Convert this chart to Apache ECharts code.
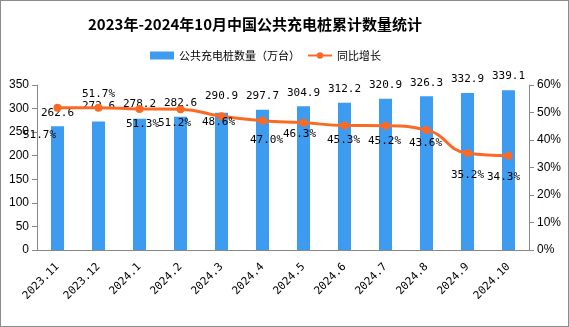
<!DOCTYPE html>
<html><head><meta charset="utf-8">
<script src="https://cdn.jsdelivr.net/npm/echarts@6/dist/echarts.min.js"></script>
<style>html,body{margin:0;padding:0;background:#fff}#c{width:569px;height:327px;box-sizing:border-box;border:1px solid #8c8c8c}</style>
</head><body><div id="c"></div>
<script>
const categories = ["2023.11","2023.12","2024.1","2024.2","2024.3","2024.4","2024.5","2024.6","2024.7","2024.8","2024.9","2024.10"];
const chargers = [262.6,272.6,278.2,282.6,290.9,297.7,304.9,312.2,320.9,326.3,332.9,339.1];
const growth = [51.7,51.7,51.3,51.2,48.6,47.0,46.3,45.3,45.2,43.6,35.2,34.3];
// label offsets relative to the point (label styling only)
const growthLabelOffset = [[-18,27],[0,-14],[3,15],[-6,14],[-3,6],[4,19],[-4,11],[-1,15],[-1,15],[-1,13],[0,22],[-5,21]];
const barLabelDistance = [8,10,9,8,11,8,8,8,8,8,8,8];

const chart = echarts.init(document.getElementById('c'));
const monoFont = '"DejaVu Sans Mono", monospace';
chart.setOption({
  animation:false,
  title:{text:'2023年-2024年10月中国公共充电桩累计数量统计',left:82,top:11,
    textStyle:{fontFamily:'"Noto Sans CJK SC"',fontSize:15,fontWeight:'bold',color:'#000'}},
  legend:{top:44,left:144,itemGap:7,itemWidth:24,itemHeight:8,
    textStyle:{fontFamily:'"Noto Sans CJK SC"',fontSize:11,color:'#000'},
    data:[{name:'公共充电桩数量（万台）',icon:'rect'},{name:'同比增长'}]},
  grid:{left:36,right:39,top:84,bottom:76,containLabel:false},
  xAxis:{type:'category',data:categories,
    axisLine:{lineStyle:{color:'#888'}},axisTick:{lineStyle:{color:'#888'},length:4},
    axisLabel:{rotate:45,interval:0,color:'#000',fontFamily:monoFont,fontSize:11,margin:15}},
  yAxis:[
    {type:'value',min:0,max:350,interval:50,splitLine:{show:false},
     axisLine:{show:true,lineStyle:{color:'#888'}},axisTick:{show:true,lineStyle:{color:'#888'}},
     axisLabel:{color:'#000',fontSize:12,fontFamily:'"Liberation Sans"'}},
    {type:'value',min:0,max:60,interval:10,splitLine:{show:false},
     axisLine:{show:true,lineStyle:{color:'#888'}},axisTick:{show:true,lineStyle:{color:'#888'}},
     axisLabel:{color:'#000',fontSize:12,fontFamily:'"Liberation Sans"',formatter:'{value}%'}}
  ],
  series:[
    {name:'公共充电桩数量（万台）',type:'bar',barWidth:13,
     data:chargers.map((v,i)=>({value:v,label:{distance:barLabelDistance[i]}})),
     itemStyle:{color:'#3d9cf0'},
     label:{show:true,position:'top',color:'#000',fontFamily:monoFont,fontSize:11}},
    {name:'同比增长',type:'line',yAxisIndex:1,smooth:true,
     data:growth.map((v,i)=>({value:v,label:{offset:growthLabelOffset[i]}})),
     symbol:'circle',symbolSize:8,lineStyle:{color:'#fa6a25',width:3},itemStyle:{color:'#fa6a25'},
     label:{show:true,position:'inside',color:'#000',fontFamily:monoFont,fontSize:11,formatter:p=>p.value.toFixed(1)+'%'}}
  ]
});
</script></body></html>
